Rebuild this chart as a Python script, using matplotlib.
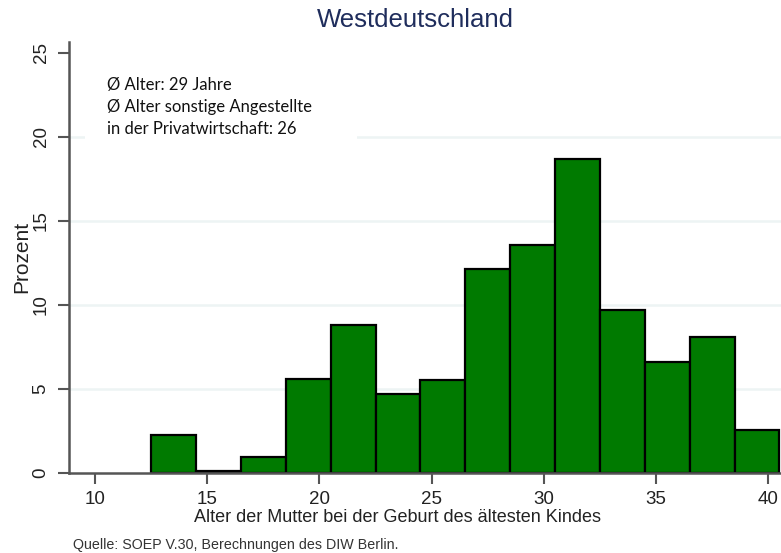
import matplotlib
matplotlib.use("Agg")
import matplotlib.pyplot as plt
from matplotlib.patches import Rectangle

# Data
bin_left = [12.5, 14.5, 16.5, 18.5, 20.5, 22.5, 24.5, 26.5, 28.5, 30.5, 32.5, 34.5, 36.5, 38.5]
bin_width = 2.0
prozent = [2.25, 0.14, 0.97, 5.6, 8.8, 4.67, 5.52, 12.15, 13.55, 18.7, 9.68, 6.6, 8.08, 2.55]
x_ticks = [10, 15, 20, 25, 30, 35, 40]
y_ticks = [0, 5, 10, 15, 20, 25]
title = "Westdeutschland"
xlabel = "Alter der Mutter bei der Geburt des ältesten Kindes"
ylabel = "Prozent"
note_lines = ["Ø Alter: 29 Jahre", "Ø Alter sonstige Angestellte", "in der Privatwirtschaft: 26"]
source = "Quelle: SOEP V.30, Berechnungen des DIW Berlin."

W, H = 781, 553
fig = plt.figure(figsize=(W / 100, H / 100), dpi=100)
fig.patch.set_facecolor("white")

ax_l, ax_r, ax_t, ax_b = 69, 781, 42, 473
ax = fig.add_axes([ax_l / W, 1 - ax_b / H, (ax_r - ax_l) / W, (ax_b - ax_t) / H])
ax.set_xlim(8.84, 40.57)
ax.set_ylim(0, 25.63)

# gridlines
for y in [5, 10, 15, 20]:
    ax.axhline(y, color="#edf4f4", lw=1.8, zorder=0)

ax.bar(bin_left, prozent, width=bin_width, align="edge", color="#007a00",
       edgecolor="black", linewidth=1.6, zorder=2)

# white box behind annotation
ax.add_patch(Rectangle(((85 - ax_l) / (ax_r - ax_l), 1 - (150 - ax_t) / (ax_b - ax_t)),
                       (357 - 85) / (ax_r - ax_l), (150 - 65) / (ax_b - ax_t),
                       transform=ax.transAxes, facecolor="white", edgecolor="none", zorder=1))

for spine in ["top", "right"]:
    ax.spines[spine].set_visible(False)
for spine in ["left", "bottom"]:
    ax.spines[spine].set_color("#555555")
    ax.spines[spine].set_linewidth(1.8)

ax.set_xticks(x_ticks)
ax.set_yticks(y_ticks)
ax.tick_params(axis="both", direction="out", length=8, width=1.5, color="#555555",
               labelcolor="#222222")
ax.set_xticklabels([str(t) for t in x_ticks], fontsize=13.5, family="Liberation Sans")
ax.set_yticklabels([str(t) for t in y_ticks], fontsize=13.5, family="Liberation Sans",
                   rotation=90, va="center")
ax.tick_params(axis="x", pad=5)
ax.tick_params(axis="y", pad=6)

fig.text(415 / W, 1 - 20 / H, title, ha="center", va="center", fontsize=18.5,
         color="#1f2d5c", family="Liberation Sans")
fig.text(397 / W, 1 - 518 / H, xlabel, ha="center", va="center", fontsize=13,
         color="#222222", family="Liberation Sans")
fig.text(22 / W, 1 - 257 / H, ylabel, ha="center", va="center", fontsize=15,
         rotation=90, color="#222222", family="Liberation Sans")
fig.text(73 / W, 1 - 545 / H, source, ha="left", va="center", fontsize=10.3,
         color="#333333", family="Liberation Sans")

for i, line in enumerate(note_lines):
    fig.text(107 / W, 1 - (85 + 22 * i) / H, line, ha="left", va="center",
             fontsize=12, color="#111111", family="Lato")

fig.savefig("out.png", dpi=100, facecolor="white")
